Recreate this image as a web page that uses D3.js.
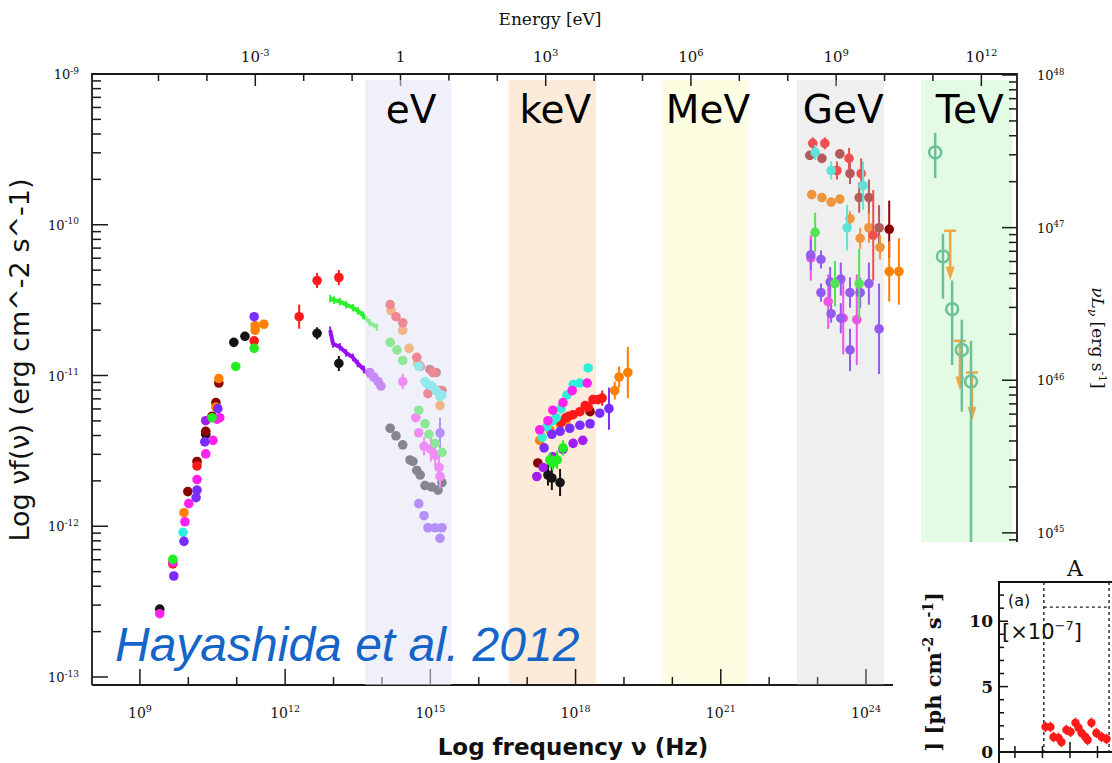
<!DOCTYPE html>
<html>
<head>
<meta charset="utf-8">
<script src="https://cdn.jsdelivr.net/npm/d3@7"></script>
<style>
  body { margin: 0; background: #fff; }
  svg { display: block; }
</style>
</head>
<body>
<script>
var width = 1112;
var height = 763;
var frame = { left: 92, right: 1017, top: 74, bottom: 685, rightBottom: 542, bottomRight: 893 };

// points: [log10 nu (Hz), log10 nuFnu (erg cm-2 s-1), half error bar in dex]
var redPts = [
  [9.68,-12.25,0],[10.18,-11.60,0],[11.36,-10.77,0],[12.29,-10.61,0.08],[12.66,-10.37,0.05],[13.11,-10.35,0.05],
  [14.17,-10.53,0],[14.29,-10.61,0],[14.43,-10.65,0],[14.72,-10.88,0],[14.79,-10.94,0],[14.95,-11.12,0],[15.05,-10.98,0],[15.20,-11.10,0],
  [17.70,-11.31,0],[17.80,-11.28,0],[17.86,-11.27,0],[17.95,-11.26,0],[18.09,-11.24,0],[18.20,-11.20,0],[18.26,-11.21,0],[18.36,-11.16,0],[18.46,-11.16,0],[18.55,-11.15,0.05],
  [22.90,-9.46,0.04],[23.15,-9.46,0.04],[23.40,-9.64,0.06],[23.65,-9.56,0.07],[23.90,-9.66,0.1],[24.15,-10.07,0.3]
];
var orangePts = [
  [9.91,-11.91,0],[10.57,-11.21,0],[10.63,-11.02,0],[11.38,-10.67,0],[11.38,-10.70,0],[11.56,-10.66,0],
  [14.19,-10.57,0],[14.43,-10.70,0],[14.56,-10.82,0],[14.74,-10.92,0],[15.20,-11.20,0],
  [17.26,-11.43,0],[17.47,-11.36,0],[17.68,-11.32,0],[17.80,-11.30,0],[18.81,-11.10,0.06],[18.90,-11.01,0.07],[19.08,-10.98,0.17],
  [22.88,-9.80,0],[23.09,-9.82,0],[23.28,-9.85,0],[23.46,-9.83,0],[23.67,-9.96,0.05],[23.88,-10.09,0.07],[24.06,-10.02,0.1],[24.29,-10.15,0.08],[24.48,-10.31,0.2],[24.68,-10.31,0.22]
];
var darkredPts = [
  [9.99,-11.77,0],[10.18,-11.57,0],[10.36,-11.37,0],[10.49,-11.27,0],[10.57,-11.18,0],[10.63,-11.05,0],
  [17.22,-11.58,0],[18.30,-11.24,0],
  [24.48,-10.03,0.19]
];
var brownPts = [
  [14.99,-10.96,0],[15.12,-10.98,0],[15.24,-11.10,0],
  [22.84,-9.54,0],[23.09,-9.56,0],[23.46,-9.53,0.03],[23.67,-9.66,0.07],[23.86,-9.82,0.1],[24.06,-9.82,0.12],[24.27,-10.02,0.15]
];
var blackPts = [
  [9.41,-12.55,0],[10.36,-11.39,0],[10.94,-10.78,0],[11.17,-10.74,0.03],[12.66,-10.72,0.04],[13.11,-10.92,0.05],
  [14.17,-11.35,0],[14.29,-11.40,0],[14.43,-11.46,0],[14.58,-11.56,0],[14.64,-11.57,0],[14.72,-11.63,0],[14.79,-11.66,0],[14.89,-11.73,0],[15.03,-11.74,0],[15.16,-11.76,0],[15.24,-11.71,0],
  [17.43,-11.66,0.07],[17.51,-11.68,0.08],[17.68,-11.71,0.09]
];
var purplePts = [
  [9.70,-12.33,0],[9.91,-12.10,0],[10.16,-11.81,0],[10.18,-11.76,0],[10.34,-11.44,0],[10.61,-11.22,0],[11.36,-10.61,0],
  [14.76,-11.85,0],[14.87,-11.93,0],[14.95,-12.01,0],[15.10,-12.01,0],[15.20,-12.08,0],[15.24,-12.01,0],[15.20,-11.38,0.1],
  [17.35,-11.48,0],[17.51,-11.39,0],[17.68,-11.37,0],[17.88,-11.35,0],[18.09,-11.33,0],[18.30,-11.32,0],[18.50,-11.25,0],[18.69,-11.22,0.14],
  [22.86,-10.20,0.1],[23.07,-10.23,0.06],[23.07,-10.45,0.06],[23.26,-10.38,0.1],[23.28,-10.59,0.06],[23.48,-10.36,0.11],[23.48,-10.62,0.1],
  [23.67,-10.45,0.1],[23.67,-10.83,0.14],[23.88,-10.45,0.1],[24.06,-10.39,0.14],[24.27,-10.69,0.3]
];
var magentaPts = [
  [9.41,-12.58,0],[9.68,-12.24,0],[9.93,-11.97,0],[10.01,-11.85,0],[10.18,-11.69,0],[10.36,-11.52,0],[10.51,-11.43,0],[10.59,-11.29,0],[10.65,-11.28,0],
  [14.43,-11.04,0.05],[14.70,-11.28,0],[14.76,-11.38,0],[14.87,-11.47,0.06],[15.01,-11.49,0.08],[15.10,-11.53,0.08],[15.18,-11.61,0.08],[15.20,-11.67,0.08],
  [17.26,-11.36,0],[17.43,-11.30,0],[17.53,-11.23,0],[17.74,-11.18,0],[17.93,-11.10,0],[18.24,-11.05,0],
  [22.86,-10.22,0.15],[23.22,-10.51,0.18],[23.53,-10.62,0.24],[23.81,-10.63,0.3]
];
var greenPts = [
  [9.68,-12.22,0],[10.49,-11.28,0],[10.98,-10.94,0],[11.36,-10.82,0],
  [14.17,-10.78,0],[14.31,-10.83,0],[14.43,-10.90,0],[14.76,-11.23,0],[14.89,-11.32,0],[14.97,-11.39,0],[15.10,-11.45,0],[15.24,-11.51,0],
  [17.47,-11.56,0.05],[17.53,-11.58,0.05],[17.62,-11.56,0.06],[17.74,-11.48,0.05],
  [22.95,-10.05,0.13],[23.36,-10.39,0.15],[23.86,-10.39,0.23]
];
var aquaPts = [
  [9.89,-12.04,0],
  [14.76,-10.94,0],[14.89,-11.04,0],[14.95,-11.06,0],[15.03,-11.07,0],[15.12,-11.10,0],[15.20,-11.14,0],[15.24,-11.13,0],
  [17.31,-11.41,0],[17.41,-11.34,0],[17.53,-11.30,0],[17.60,-11.28,0],[17.70,-11.22,0],[17.82,-11.13,0],[17.95,-11.06,0],[18.09,-11.05,0],[18.26,-10.95,0],
  [22.95,-9.52,0.05],[23.28,-9.64,0.06],[23.61,-10.02,0.15],[23.94,-9.74,0.16]
];
var violetPts = [
  [10.36,-11.30,0],
  [13.75,-10.98,0],[13.83,-11.01,0],[13.92,-11.04,0],[13.98,-11.07,0],
  [17.20,-11.67,0],[17.33,-11.61,0],[17.53,-11.54,0],[17.74,-11.49,0],[17.95,-11.45,0],[18.15,-11.43,0]
];

// infrared spectra: [log10 nu, log10 nuFnu]
var greenSpec = [[12.93,-10.49],[13.01,-10.50],[13.13,-10.51],[13.26,-10.53],[13.40,-10.55],[13.50,-10.57],[13.61,-10.60],[13.75,-10.65],[13.90,-10.68]];
var violetSpec = [[12.93,-10.70],[12.99,-10.79],[13.13,-10.81],[13.26,-10.85],[13.40,-10.88],[13.50,-10.92],[13.63,-10.96],[13.71,-10.99]];

// TeV: [log10 nu, log10 nuFnu, top of bar, bottom of bar]
var tevPts = [[25.43,-9.52,-9.39,-9.69],[25.59,-10.21,-10.06,-10.49],[25.78,-10.56,-10.37,-10.93],[25.98,-10.83,-10.63,-11.24],[26.17,-11.04,-10.77,-12.6]];
// TeV upper limits: [log10 nu, limit, arrow tip]
var tevLimits = [[25.74,-10.04,-10.37],[25.94,-10.77,-11.10],[26.19,-10.98,-11.30]];

// energy bands (log10 nu)
var bandNames = ['eV', 'keV', 'MeV', 'GeV', 'TeV'];
var bandLo = [13.65, 16.62, 19.79, 22.57, 25.14];
var bandHi = [15.43, 18.42, 21.56, 24.37, 27.02];

// axis ticks
var nuTickExp = d3.range(9, 25);
var eTickExp = d3.range(-5, 13);
var fluxTickExp = d3.range(-13, -8);
var lumTickExp = d3.range(45, 49);

// inset light curve
var insetTime = [2.11,2.29,2.40,2.58,2.69,2.87,3.02,3.20,3.31,3.42,3.56,3.64,3.78,3.96,4.15,4.33];
var insetFlux = [1.92,1.92,1.15,1.08,0.77,1.69,1.54,2.23,1.85,1.46,1.15,0.92,2.23,1.46,1.15,1.00];
var insetYTicks = d3.range(0, 14);
var insetXTicks = [1, 2, 3, 4];

var serif = "'DejaVu Serif', serif";
var sans = "'DejaVu Sans', sans-serif";

var svg = d3.select('body').append('svg')
            .attr('width', width)
            .attr('height', height);

svg.append('rect').attr('width', width).attr('height', height).attr('fill', '#fff');

var xScale = d3.scaleLog()
               .domain([Math.pow(10, 8.01), Math.pow(10, 27.12)])
               .range([frame.left, frame.right]);
var eScale = d3.scaleLog()
               .domain([Math.pow(10, 8.01 - 14.3835), Math.pow(10, 27.12 - 14.3835)])
               .range([frame.left, frame.right]);
var yScale = d3.scaleLog()
               .domain([Math.pow(10, -13.053), 1e-9])
               .range([frame.bottom, frame.top]);
var yRight = d3.scaleLog()
               .domain([Math.pow(10, 44.94), Math.pow(10, 48.0066)])
               .range([frame.rightBottom, frame.top]);

function X(l) { return xScale(Math.pow(10, l)); }
function Y(l) { return yScale(Math.pow(10, l)); }

function powLabel(text, exp, size, supSize) {
  text.append('tspan').text('10');
  text.append('tspan').attr('font-size', supSize).attr('dy', -size * 0.42).text(exp);
}

var bandStyle = {
  eV:  { fill: '#e4e4f8', opacity: 0.55, over: true },
  keV: { fill: '#fdebd9', opacity: 1, over: false },
  MeV: { fill: '#fdfde1', opacity: 1, over: false },
  GeV: { fill: '#cacaca', opacity: 0.3, over: true },
  TeV: { fill: '#e3fbe3', opacity: 1, over: false }
};
var bands = bandNames.map(function (n, i) { return { name: n, lo: bandLo[i], hi: bandHi[i] }; });

var gUnder = svg.append('g');
var gAxes = svg.append('g');
var gData = svg.append('g');
var gOver = svg.append('g');
var gText = svg.append('g');

function drawBand(g, d) {
  var s = bandStyle[d.name];
  g.append('rect')
    .attr('x', X(d.lo))
    .attr('width', X(d.hi) - X(d.lo))
    .attr('y', frame.top + 6)
    .attr('height', frame.bottom - frame.top - 6)
    .attr('fill', s.fill)
    .attr('fill-opacity', s.opacity);
}
bands.forEach(function (d) { drawBand(bandStyle[d.name].over ? gOver : gUnder, d); });

// frame
var axisColor = '#1a1a1a';
gAxes.append('path')
  .attr('d', 'M' + frame.left + ',' + frame.bottom + 'V' + frame.top + 'H' + frame.right + 'V' + frame.rightBottom)
  .attr('fill', 'none').attr('stroke', axisColor).attr('stroke-width', 1.8);
gAxes.append('line')
  .attr('x1', frame.left).attr('x2', frame.bottomRight)
  .attr('y1', frame.bottom).attr('y2', frame.bottom)
  .attr('stroke', axisColor).attr('stroke-width', 1.8);

// bottom axis (frequency)
nuTickExp.forEach(function (e) {
  var x = xScale(Math.pow(10, e));
  var len = e % 3 === 0 ? 16 : 8;
  gAxes.append('line').attr('x1', x).attr('x2', x)
    .attr('y1', frame.bottom).attr('y2', frame.bottom - len)
    .attr('stroke', axisColor).attr('stroke-width', 1.5);
  if (e % 3 === 0) {
    var t = gAxes.append('text').attr('x', x).attr('y', 718)
      .attr('text-anchor', 'middle').attr('font-family', serif).attr('font-size', 14).attr('fill', '#111');
    powLabel(t, e, 14, 9.5);
  }
});

// top axis (energy)
eTickExp.forEach(function (e) {
  var x = eScale(Math.pow(10, e));
  var len = e % 3 === 0 ? 12 : 7;
  gAxes.append('line').attr('x1', x).attr('x2', x)
    .attr('y1', frame.top).attr('y2', frame.top + len)
    .attr('stroke', axisColor).attr('stroke-width', 1.5);
  if (e % 3 === 0) {
    var t = gAxes.append('text').attr('x', x).attr('y', 62)
      .attr('text-anchor', 'middle').attr('font-family', serif).attr('font-size', 15).attr('fill', '#111');
    if (e === 0) t.text('1'); else powLabel(t, e, 15, 10);
  }
});
gAxes.append('text').attr('x', 550).attr('y', 25)
  .attr('text-anchor', 'middle').attr('font-family', serif).attr('font-size', 17).attr('fill', '#111')
  .text('Energy [eV]');

// left axis (flux)
fluxTickExp.forEach(function (e) {
  d3.range(1, 10).forEach(function (m) {
    var v = m * Math.pow(10, e);
    if (v > 1.0001e-9) return;
    var y = yScale(v);
    gAxes.append('line').attr('x1', frame.left).attr('x2', frame.left + (m === 1 ? 16 : 9))
      .attr('y1', y).attr('y2', y).attr('stroke', axisColor).attr('stroke-width', 1.5);
  });
  var t = gAxes.append('text').attr('x', 79).attr('y', yScale(Math.pow(10, e)) + 5)
    .attr('text-anchor', 'end').attr('font-family', serif).attr('font-size', 13).attr('fill', '#111');
  powLabel(t, e, 13, 9);
});

// right axis (luminosity)
d3.range(44, 49).forEach(function (e) {
  d3.range(1, 10).forEach(function (m) {
    var v = m * Math.pow(10, e);
    var y = yRight(v);
    if (y < frame.top || y > frame.rightBottom) return;
    gAxes.append('line').attr('x1', frame.right).attr('x2', frame.right - (m === 1 ? 15 : 8))
      .attr('y1', y).attr('y2', y).attr('stroke', axisColor).attr('stroke-width', 1.5);
  });
});
lumTickExp.forEach(function (e) {
  var t = gAxes.append('text').attr('x', 1037).attr('y', yRight(Math.pow(10, e)) + 5)
    .attr('font-family', serif).attr('font-size', 13).attr('fill', '#111');
  powLabel(t, e, 13, 8.5);
});
var rl = gAxes.append('text')
  .attr('transform', 'translate(1092,338) rotate(90)')
  .attr('text-anchor', 'middle').attr('font-family', serif).attr('font-size', 17).attr('fill', '#111');
rl.append('tspan').attr('font-style', 'italic').text('νL');
rl.append('tspan').attr('font-style', 'italic').attr('font-size', 12).attr('dy', 4).text('ν');
rl.append('tspan').attr('dy', -4).text(' [erg s');
rl.append('tspan').attr('font-size', 11).attr('dy', -7).text('-1');
rl.append('tspan').attr('dy', 7).text(']');

// axis titles
gText.append('text').attr('x', 573).attr('y', 755)
  .attr('text-anchor', 'middle').attr('font-family', sans).attr('font-weight', 'bold').attr('font-size', 23).attr('fill', '#111')
  .text('Log frequency ν (Hz)');
gText.append('text').attr('transform', 'translate(29,360) rotate(-90)')
  .attr('text-anchor', 'middle').attr('font-family', sans).attr('font-size', 27).attr('fill', '#111')
  .text('Log νf(ν) (erg cm^-2 s^-1)');

// data
var series = [
  { pts: blackPts, color: '#141414' },
  { pts: darkredPts, color: '#8b0000' },
  { pts: brownPts, color: '#a82c2c' },
  { pts: orangePts, color: '#ff7f00' },
  { pts: redPts, color: '#ff1a1a' },
  { pts: aquaPts, color: '#30eedc' },
  { pts: magentaPts, color: '#ff22ee' },
  { pts: purplePts, color: '#7b2cff' },
  { pts: violetPts, color: '#a21ef0' },
  { pts: greenPts, color: '#22ee22' }
];

series.forEach(function (s) {
  var g = gData.append('g');
  g.selectAll('line')
    .data(s.pts.filter(function (d) { return d[2] > 0; }))
    .enter().append('line')
    .attr('x1', function (d) { return X(d[0]); })
    .attr('x2', function (d) { return X(d[0]); })
    .attr('y1', function (d) { return Y(d[1] + d[2]); })
    .attr('y2', function (d) { return Y(d[1] - d[2]); })
    .attr('stroke', s.color).attr('stroke-width', 2);
  g.selectAll('circle')
    .data(s.pts)
    .enter().append('circle')
    .attr('cx', function (d) { return X(d[0]); })
    .attr('cy', function (d) { return Y(d[1]); })
    .attr('r', 4.8)
    .attr('fill', s.color);
});

var specLine = d3.line()
  .x(function (d) { return X(d[0]); })
  .y(function (d) { return Y(d[1]); });
[{ pts: greenSpec, color: '#2cf02c' }, { pts: violetSpec, color: '#9a10f4' }].forEach(function (s) {
  gData.append('path').datum(s.pts)
    .attr('d', specLine)
    .attr('fill', 'none').attr('stroke', s.color).attr('stroke-width', 4).attr('stroke-linejoin', 'round');
  gData.selectAll(null).data(s.pts).enter().append('line')
    .attr('x1', function (d) { return X(d[0]); })
    .attr('x2', function (d) { return X(d[0]); })
    .attr('y1', function (d) { return Y(d[1] + 0.025); })
    .attr('y2', function (d) { return Y(d[1] - 0.025); })
    .attr('stroke', s.color).attr('stroke-width', 2);
});

// TeV points and limits
var tevColor = '#6cc09a';
var limColor = '#f2a544';
tevLimits.forEach(function (d) {
  var x = X(d[0]), y0 = Y(d[1]), y1 = Y(d[2]);
  gData.append('line').attr('x1', x - 6).attr('x2', x + 6).attr('y1', y0).attr('y2', y0)
    .attr('stroke', limColor).attr('stroke-width', 2.5);
  gData.append('line').attr('x1', x).attr('x2', x).attr('y1', y0).attr('y2', y1 - 10)
    .attr('stroke', limColor).attr('stroke-width', 2.5);
  gData.append('path')
    .attr('d', 'M' + (x - 4.5) + ',' + (y1 - 14) + 'L' + (x + 4.5) + ',' + (y1 - 14) + 'L' + x + ',' + y1 + 'Z')
    .attr('fill', limColor);
});
gData.selectAll('.tevbar').data(tevPts).enter().append('line')
  .attr('x1', function (d) { return X(d[0]); })
  .attr('x2', function (d) { return X(d[0]); })
  .attr('y1', function (d) { return Y(d[2]); })
  .attr('y2', function (d) { return Y(d[3]); })
  .attr('stroke', tevColor).attr('stroke-width', 2.5);
gData.selectAll('.tevpt').data(tevPts).enter().append('circle')
  .attr('cx', function (d) { return X(d[0]); })
  .attr('cy', function (d) { return Y(d[1]); })
  .attr('r', 6)
  .attr('fill', 'none').attr('stroke', tevColor).attr('stroke-width', 2.5);

// band labels
bands.forEach(function (d) {
  gText.append('text')
    .attr('x', X((d.lo + d.hi) / 2) + 3)
    .attr('y', 123)
    .attr('text-anchor', 'middle')
    .attr('font-family', "'Comic Sans MS', 'DejaVu Sans', sans-serif")
    .attr('font-size', 39)
    .attr('fill', '#000')
    .text(d.name);
});

gText.append('text').attr('x', 115).attr('y', 661)
  .attr('font-family', "'Liberation Sans', Arial, sans-serif").attr('font-style', 'italic')
  .attr('font-size', 48).attr('fill', '#1565c9')
  .text('Hayashida et al. 2012');

// inset panel (light curve)
var gInset = svg.append('g');
gInset.append('rect').attr('x', frame.bottomRight).attr('y', frame.rightBottom)
  .attr('width', width - frame.bottomRight).attr('height', height - frame.rightBottom).attr('fill', '#fff');

var ix = d3.scaleLinear().domain([0.42, 4.6]).range([999, 1114]);
var iy = d3.scaleLinear().domain([0, 13]).range([752, 582]);

gInset.append('path')
  .attr('d', 'M999,' + height + 'V' + iy(13) + 'H' + width)
  .attr('fill', 'none').attr('stroke', '#111').attr('stroke-width', 2);
gInset.append('line').attr('x1', 999).attr('x2', width).attr('y1', iy(0)).attr('y2', iy(0))
  .attr('stroke', '#111').attr('stroke-width', 2);
insetYTicks.forEach(function (v) {
  var major = v % 5 === 0;
  gInset.append('line').attr('x1', 999).attr('x2', 999 + (major ? 9 : 5))
    .attr('y1', iy(v)).attr('y2', iy(v)).attr('stroke', '#111').attr('stroke-width', 1.5);
  if (major) {
    gInset.append('text').attr('x', 993).attr('y', iy(v) + 6)
      .attr('text-anchor', 'end').attr('font-family', serif).attr('font-weight', 'bold')
      .attr('font-size', 17).attr('fill', '#111').text(v);
  }
});
insetXTicks.forEach(function (t) {
  var x = ix(t);
  gInset.append('line').attr('x1', x).attr('x2', x)
    .attr('y1', iy(0) - (t === 3 ? 10 : 6)).attr('y2', iy(0) + 6)
    .attr('stroke', '#111').attr('stroke-width', 1.5);
});
var dots = '3,3';
gInset.append('line').attr('x1', ix(2.05)).attr('x2', ix(2.05)).attr('y1', iy(13)).attr('y2', iy(0))
  .attr('stroke', '#222').attr('stroke-width', 1.4).attr('stroke-dasharray', dots);
gInset.append('line').attr('x1', ix(4.42)).attr('x2', ix(4.42)).attr('y1', iy(13)).attr('y2', iy(0))
  .attr('stroke', '#222').attr('stroke-width', 1.4).attr('stroke-dasharray', dots);
gInset.append('line').attr('x1', ix(2.05)).attr('x2', ix(4.42)).attr('y1', iy(11.08)).attr('y2', iy(11.08))
  .attr('stroke', '#222').attr('stroke-width', 1.4).attr('stroke-dasharray', dots);

var lc = insetTime.map(function (t, i) { return [t, insetFlux[i]]; });
gInset.selectAll('.lcbar').data(lc).enter().append('line')
  .attr('x1', function (d) { return ix(d[0]); })
  .attr('x2', function (d) { return ix(d[0]); })
  .attr('y1', function (d) { return iy(d[1] + 0.4); })
  .attr('y2', function (d) { return iy(d[1] - 0.4); })
  .attr('stroke', '#ff1a1a').attr('stroke-width', 1.5);
gInset.selectAll('.lcpt').data(lc).enter().append('circle')
  .attr('cx', function (d) { return ix(d[0]); })
  .attr('cy', function (d) { return iy(d[1]); })
  .attr('r', 4.2).attr('fill', '#ff1a1a');

gInset.append('text').attr('x', 1075).attr('y', 576).attr('text-anchor', 'middle')
  .attr('font-family', serif).attr('font-size', 22).attr('fill', '#111').text('A');
gInset.append('text').attr('x', 1008).attr('y', 606)
  .attr('font-family', sans).attr('font-size', 16).attr('fill', '#111').text('(a)');
var mult = gInset.append('text').attr('x', 1002).attr('y', 639)
  .attr('font-family', sans).attr('font-size', 21).attr('fill', '#111');
mult.append('tspan').text('[×10');
mult.append('tspan').attr('font-size', 13).attr('dy', -9).text('−7');
mult.append('tspan').attr('dy', 9).text(']');
var iyl = gInset.append('text').attr('transform', 'translate(941,592) rotate(-90)')
  .attr('text-anchor', 'end').attr('font-family', serif).attr('font-weight', 'bold')
  .attr('font-size', 21).attr('fill', '#111');
iyl.append('tspan').text(']  [ph cm');
iyl.append('tspan').attr('font-size', 14).attr('dy', -8).text('-2');
iyl.append('tspan').attr('dy', 8).text(' s');
iyl.append('tspan').attr('font-size', 14).attr('dy', -8).text('-1');
iyl.append('tspan').attr('dy', 8).text(']');
</script>
</body>
</html>
